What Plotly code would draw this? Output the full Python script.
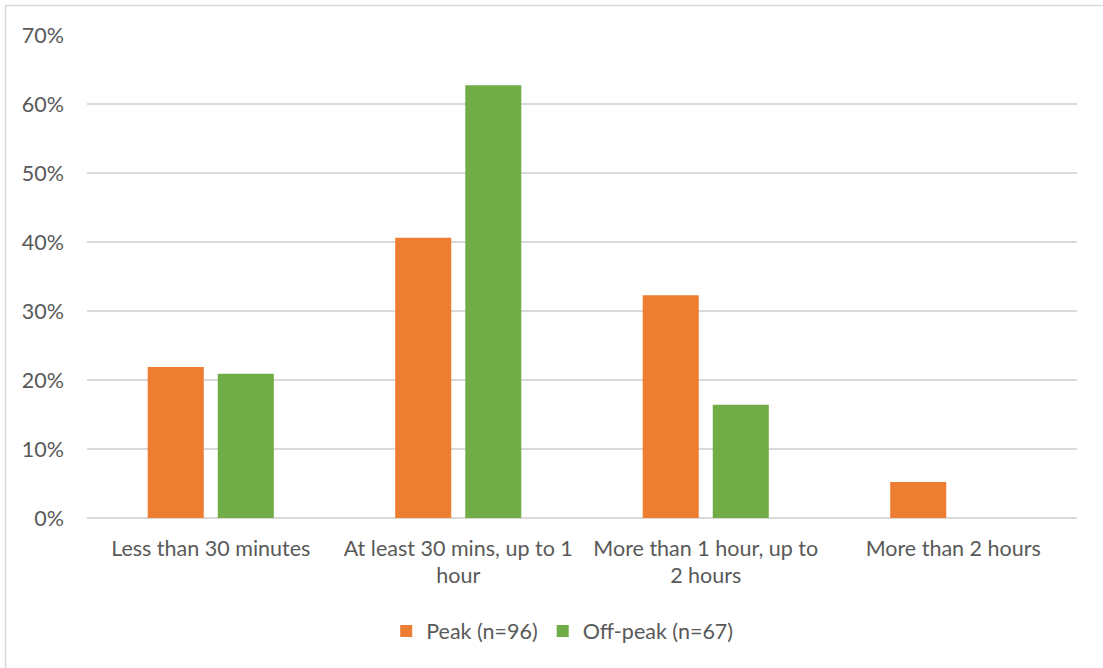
import plotly.graph_objects as go

categories = [
    "Less than 30 minutes",
    "At least 30 mins, up to 1<br>hour",
    "More than 1 hour, up to<br>2 hours",
    "More than 2 hours",
]
peak_pct = [21.9, 40.6, 32.3, 5.2]
offpeak_pct = [20.9, 62.7, 16.4, 0.0]
series_names = ["Peak (n=96)", "Off-peak (n=67)"]

ORANGE = "#ED7D31"
GREEN = "#70AD47"
TEXT = "#595959"
GRID = "#D9D9D9"
FONT = "Lato, 'Open Sans', sans-serif"
FS = 21.5

fig = go.Figure()
fig.add_trace(go.Bar(x=categories, y=peak_pct, name=series_names[0],
                     marker=dict(color=ORANGE, line=dict(width=0))))
fig.add_trace(go.Bar(x=categories, y=offpeak_pct, name=series_names[1],
                     marker=dict(color=GREEN, line=dict(width=0))))

fig.update_layout(
    width=1103, height=668,
    margin=dict(l=87, r=26, t=35, b=150),
    paper_bgcolor="white", plot_bgcolor="white",
    barmode="group", bargap=0.434, bargroupgap=0.2,
    font=dict(family=FONT, size=FS, color=TEXT),
    showlegend=True,
    legend=dict(orientation="h", x=0.48, xanchor="center", y=-0.234, yanchor="middle",
                font=dict(size=FS, color=TEXT), itemwidth=30, traceorder="normal"),
    shapes=[dict(type="rect", xref="paper", yref="paper",
                 x0=-0.0823, x1=1.2, y0=-0.5, y1=1.061,
                 line=dict(color=GRID, width=1.5), fillcolor="rgba(0,0,0,0)", layer="below")],
)
fig.update_yaxes(range=[0, 70], dtick=10, ticksuffix="%", showgrid=True, gridcolor=GRID,
                 gridwidth=1.5, zeroline=True, zerolinecolor=GRID, zerolinewidth=1.5,
                 showline=False, ticks="", ticklabelstandoff=22,
                 tickfont=dict(size=FS, color=TEXT))
fig.update_xaxes(showline=False, ticks="", ticklabelstandoff=15,
                 tickfont=dict(size=FS, color=TEXT))

fig.write_html("out.html")
